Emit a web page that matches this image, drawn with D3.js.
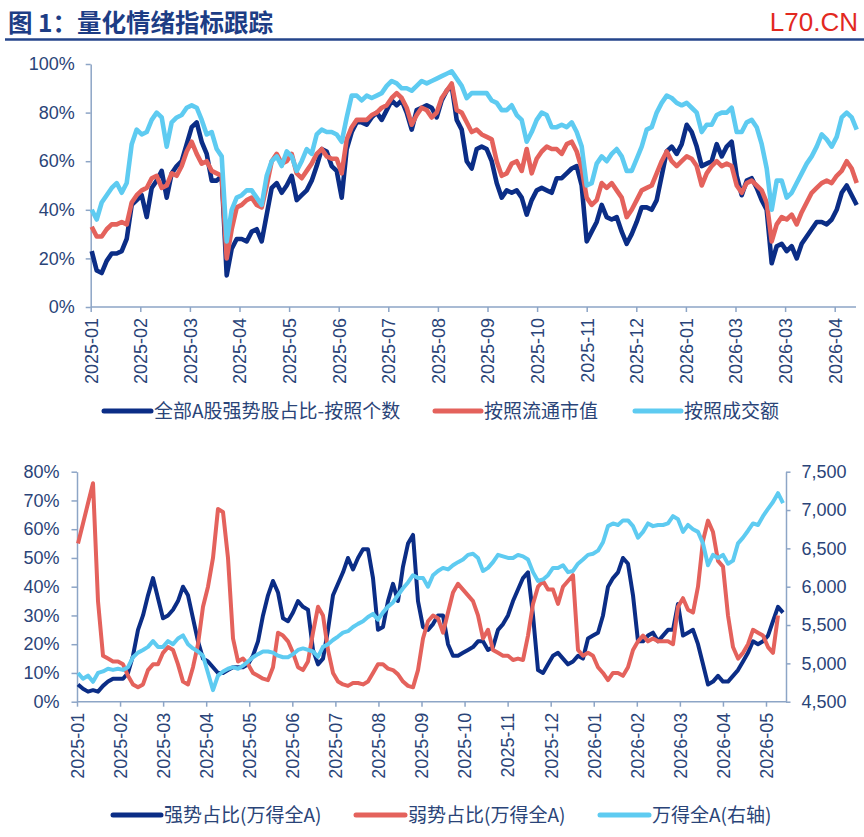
<html>

<head>
    <meta charset="utf-8">
    <style>
        body { margin: 0; background: white; }
        text { font-family: "Liberation Sans", Arial, sans-serif; }
        .cn { font-family: "Noto Sans CJK SC", sans-serif; }
    </style>
</head>

<body>
    <svg id="container" height="837" width="864">
        <g id="body" />
    </svg>
</body>
<script src="https://cdn.jsdelivr.net/npm/d3@7"></script>

<script>
    // top chart: share of strong stocks, sampled about every two trading days
    let topCount = [23,15,14,19,22,22,23,28,42,44,46,37,49,52,56,45,55,58,60,67,74,76,68,63,52,52,54,13,24,28,28,27,31,32,27,38,49,51,47,50,54,44,
        46,48,52,58,65,64,58,56,45,65,72,76,76,75,78,80,77,81,85,83,85,80,73,81,82,83,82,78,85,89,91,77,73,60,57,65,66,65,60,51,45,48,47,48,45,38,44,48,49,48,47,53,
        53,55,57,58,50,27,31,35,42,37,36,37,31,26,30,35,41,41,40,44,54,64,66,63,67,75,72,66,58,59,60,67,62,66,68,54,46,52,53,49,44,40,18,25,26,23,25,20,26,29,32,35,35,34,36,40,47,50,46,42]
    let topFloat = [33,29,29,32,34,34,35,34,43,46,48,49,53,54,49,50,55,54,58,64,68,63,59,60,56,55,54,20,32,41,42,44,45,42,41,50,60,63,59,60,63,55,
        53,56,59,63,65,62,61,61,55,69,74,77,77,77,79,80,82,83,86,88,86,82,75,79,82,81,78,80,86,89,92,81,80,76,72,73,71,70,69,60,54,55,59,60,56,65,55,61,64,66,65,65,
        63,67,68,64,57,45,42,44,51,49,51,48,45,37,40,44,48,49,50,55,60,64,60,58,60,62,61,58,50,55,58,60,58,59,58,50,47,51,52,50,48,43,27,34,37,36,38,34,39,43,47,49,51,52,51,54,56,60,57,51]
    let topTurnover = [40,36,43,46,49,51,47,51,67,73,71,72,77,80,78,66,76,78,79,82,83,82,77,71,72,65,62,27,40,45,46,48,48,45,42,54,60,62,58,64,62,56,
        60,65,63,71,73,72,72,71,68,78,87,87,85,87,86,87,88,91,93,92,90,90,89,91,93,92,93,94,95,96,97,94,91,86,88,88,88,88,85,84,81,81,83,79,77,68,72,77,80,79,74,74,
        75,74,76,72,66,50,51,59,62,60,63,65,62,56,56,61,66,73,74,80,84,87,86,84,83,84,82,80,72,75,75,79,80,80,82,72,72,76,77,74,67,57,40,52,52,45,47,51,55,59,62,66,71,69,66,70,78,80,78,73]
    let topTicks = ["2025-01","2025-02","2025-03","2025-04","2025-05","2025-06","2025-07","2025-08","2025-09","2025-10","2025-11","2025-12","2026-01","2026-03","2026-03","2026-04"]
    let topYTicks = [0, 20, 40, 60, 80, 100]
    let topNames = ["全部A股强势股占比-按照个数", "按照流通市值", "按照成交额"]

    // bottom chart: strong / weak share and Wind All A index
    let strongShare = [6,4.5,3.5,4,3.5,5.5,7,8,8,8,10,16,25,30,37,43,36,29,30,32,35,40,37,29,21,15,14,12,10,10,11,12,12,12,13,16,21,30,37,42,38,29,28,31,35,
        33,32,18,13,15,25,37,41,45,50,46,50,53,53,43,25,26,35,41,35,47,55,58,35,26,25,27,30,30,20,16,16,17,18,19,21,21,18,19,25,27,30,35,39,43,45,30,11,10,13,16,17,15,13,14,16,
        15,22,23,24,30,40,43,45,50,48,37,21,21,23,24,21,23,25,25,34,23,24,25,20,13,6,7,9,7,7,9,11,14,17,21,20,21,23,28,33,31]
    let weakShare = [55,62,69,76,35,16,15,14,14,13,9,6,5,6,11,13,13,17,19,18,13,7,6,12,20,33,40,50,67,66,50,22,14,15,13,10,9,8,7.5,12,24,23,21,17,12,
        11,14,24,33,30,18,10,7,6,5.5,6.5,6.5,6,7,10,13,13,11.5,11,9.5,7,5.5,5,11,22,28,30,29,24,31,38,41,39,37,35,30,22,25,18,17,16,16,14.5,15,14.5,23,34,40,42,39,39,34,40,42,44,
        18,16,17,16,12,10,7.5,10,10,9,12,18,21,23,21,22,21,21,21,20,33,36,32,31,40,56,63,59,49,47,30,19,15,17,20,25,24,23,19,17,30]
    let windA = [4875,4800,4840,4760,4875,4895,4930,4915,4930,4915,4950,5080,5140,5175,5215,5290,5215,5215,5290,5250,5325,5365,5250,5195,5155,5100,4875,4650,4840,4895,4930,4950,4930,4970,5025,5080,5120,5155,5155,5140,5100,5080,5080,5120,5175,
        5195,5175,5155,5085,5215,5250,5305,5350,5400,5420,5475,5515,5550,5605,5645,5570,5665,5740,5795,5890,5980,6055,6150,6115,6115,6000,6150,6205,6245,6225,6280,6320,6355,6415,6430,6375,6205,6245,6320,6415,6395,6375,6375,6415,6395,6355,6190,6075,6095,6150,6245,6245,6280,6190,6205,6300,
        6355,6415,6430,6470,6580,6790,6825,6805,6865,6865,6790,6640,6715,6825,6790,6805,6805,6825,6920,6880,6715,6805,6750,6715,6565,6280,6415,6375,6415,6300,6340,6565,6640,6730,6825,6805,6920,7015,7105,7220,7090]
    let bottomTicks = ["2025-01","2025-02","2025-03","2025-04","2025-05","2025-06","2025-07","2025-08","2025-09","2025-10","2025-11","2025-12","2026-01","2026-02","2026-03","2026-04","2026-05"]
    let bottomYTicks = [0, 10, 20, 30, 40, 50, 60, 70, 80]
    let bottomY2Ticks = [4500, 5000, 5500, 6000, 6500, 7000, 7500]
    let bottomNames = ["强势占比(万得全A)", "弱势占比(万得全A)", "万得全A(右轴)"]

    let colors = ["#0b2d86", "#e4625c", "#5ecbf1"]
    let axisColor = "#8da5c6"
    let labelColor = "#2a4478"

    let body = d3.select("#body")

    function header() {
        body.append("text").attr("class", "cn")
            .attr("x", 8).attr("y", 32)
            .attr("font-size", 24.5).attr("font-weight", "bold")
            .attr("fill", "#1d3d85")
            .text("图 1：量化情绪指标跟踪")
        body.append("line")
            .attr("x1", 5).attr("x2", 864).attr("y1", 39.5).attr("y2", 39.5)
            .attr("stroke", "#24458b").attr("stroke-width", 2.5)
        body.append("text")
            .attr("x", 858).attr("y", 31)
            .attr("text-anchor", "end")
            .attr("font-size", 26).attr("fill", "#e2291f")
            .text("L70.CN")
    }

    function styleAxis(g) {
        g.selectAll("path, line").attr("stroke", axisColor).attr("stroke-width", 1.5)
        g.selectAll("text").attr("fill", labelColor).attr("font-size", 18)
            .attr("font-family", "'Liberation Sans', Arial, sans-serif")
    }

    function dateAxis(g, scale, labels, y, lineEnd) {
        let axis = d3.axisBottom(scale).tickSize(5).tickFormat(i => labels[i])
        let ax = g.append("g").attr("transform", `translate(0,${y})`).call(axis)
        ax.select(".domain").remove()
        ax.append("line").attr("x1", scale.range()[0]).attr("x2", lineEnd)
        ax.selectAll(".tick text")
            .attr("transform", "rotate(-90)")
            .attr("x", -11).attr("y", 0).attr("dy", "0.35em")
            .style("text-anchor", "end")
        styleAxis(ax)
    }

    function legend(g, names, y, spots) {
        names.forEach((name, i) => {
            g.append("line")
                .attr("x1", spots[i][0]).attr("x2", spots[i][1])
                .attr("y1", y).attr("y2", y)
                .attr("stroke", colors[i]).attr("stroke-width", 5)
                .attr("stroke-linecap", "round")
            g.append("text").attr("class", "cn")
                .attr("x", spots[i][1] + 3).attr("y", y).attr("dy", "0.36em")
                .attr("font-size", 19).attr("fill", labelColor)
                .text(name)
        })
    }

    function drawTop() {
        let g = body.append("g")
        let x = d3.scaleLinear().domain([0, topCount.length - 1]).range([91.7, 856.7])
        let xt = d3.scalePoint().domain(d3.range(topTicks.length)).range([90.7, 834.7])
        let y = d3.scaleLinear().domain([0, 100]).range([307, 64])

        let yAxis = g.append("g").attr("transform", "translate(90.7,0)")
            .call(d3.axisLeft(y).tickValues(topYTicks).tickSize(5).tickSizeOuter(0).tickPadding(11).tickFormat(d => d + "%"))
        styleAxis(yAxis)
        dateAxis(g, xt, topTicks, 307, 856)

        let line = d3.line().x((d, i) => x(i)).y(d => y(d)).curve(d3.curveLinear)
        ;[topCount, topFloat, topTurnover].forEach((series, i) => {
            g.append("path").datum(series)
                .attr("d", line)
                .attr("fill", "none")
                .attr("stroke", colors[i])
                .attr("stroke-width", 4.6)
                .attr("stroke-linejoin", "round")
        })

        legend(g, topNames, 411, [[104, 151], [435, 481], [635, 681]])
    }

    function drawBottom() {
        let g = body.append("g")
        let x = d3.scaleLinear().domain([0, strongShare.length - 1]).range([78, 783])
        let xt = d3.scalePoint().domain(d3.range(bottomTicks.length)).range([77, 766])
        let y = d3.scaleLinear().domain([0, 80]).range([701.7, 471.7])
        let y2 = d3.scaleLinear().domain([4500, 7500]).range([701.7, 471.7])

        let yAxis = g.append("g").attr("transform", "translate(77,0)")
            .call(d3.axisLeft(y).tickValues(bottomYTicks).tickSize(5.5).tickSizeOuter(0).tickPadding(12).tickFormat(d => d + "%"))
        styleAxis(yAxis)
        let y2Axis = g.append("g").attr("transform", "translate(786,0)")
            .call(d3.axisRight(y2).tickValues(bottomY2Ticks).tickSize(4.5).tickSizeOuter(0).tickPadding(11).tickFormat(d3.format(",")))
        styleAxis(y2Axis)
        dateAxis(g, xt, bottomTicks, 701.7, 786)

        let line = d3.line().x((d, i) => x(i)).y(d => y(d))
        let line2 = d3.line().x((d, i) => x(i)).y(d => y2(d))
        ;[strongShare, weakShare].forEach((series, i) => {
            g.append("path").datum(series)
                .attr("d", line)
                .attr("fill", "none")
                .attr("stroke", colors[i])
                .attr("stroke-width", 4)
                .attr("stroke-linejoin", "round")
        })
        g.append("path").datum(windA)
            .attr("d", line2)
            .attr("fill", "none")
            .attr("stroke", colors[2])
            .attr("stroke-width", 4)
            .attr("stroke-linejoin", "round")

        legend(g, bottomNames, 815, [[113, 161], [356, 405], [600, 649]])
    }

    header()
    drawTop()
    drawBottom()

</script>

</html>
